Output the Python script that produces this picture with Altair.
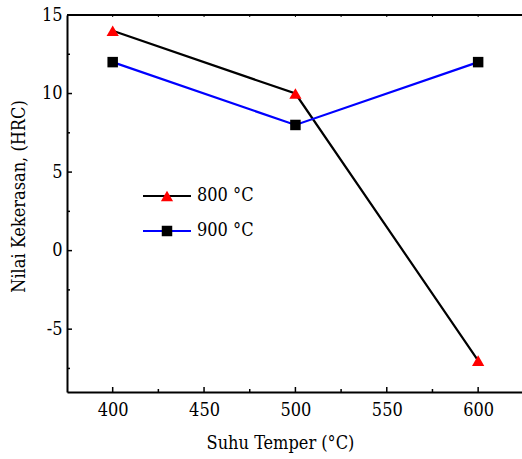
import altair as alt
import pandas as pd

# Data
temps = [400, 500, 600]
hrc_800 = [14, 10, -7]
hrc_900 = [12, 8, 12]
series_names = ["800 °C", "900 °C"]

x_major = [400, 450, 500, 550, 600]
x_minor = [425, 475, 525, 575]
x_top = [400, 425, 450, 475, 500, 525, 550, 575, 600]
y_major = [-5, 0, 5, 10]
y_minor = [-7.5, -2.5, 2.5, 7.5, 12.5]

FONT = "DejaVu Serif Condensed, Liberation Serif, serif"
W, H = 455, 377

df = pd.DataFrame({
    "temp": temps * 2,
    "hrc": hrc_800 + hrc_900,
    "series": [series_names[0]] * 3 + [series_names[1]] * 3,
})

xs = alt.Scale(domain=[375, 624], nice=False, zero=False)
ys = alt.Scale(domain=[-9, 15], nice=False, zero=False)

x_axis = alt.Axis(values=x_major, title="Suhu Temper (°C)", ticks=False,
                  labelFont=FONT, labelFontSize=18, labelColor="black", labelPadding=9,
                  titleFont=FONT, titleFontSize=18, titleFontWeight="normal", titleColor="black",
                  titlePadding=15, titleX=213, titleAlign="center",
                  domainColor="black", domainWidth=2, grid=False)
y_axis = alt.Axis(values=[-5, 0, 5, 10, 15], title="Nilai Kekerasan, (HRC)", ticks=False,
                  labelExpr="'' + datum.value",
                  labelFont=FONT, labelFontSize=18, labelColor="black", labelPadding=5,
                  titleFont=FONT, titleFontSize=18, titleFontWeight="normal", titleColor="black",
                  titlePadding=13, titleY=181, titleAlign="center",
                  domainColor="black", domainWidth=2, grid=False)

color_line = alt.Color("series:N", scale=alt.Scale(domain=series_names, range=["black", "#0000FF"]), legend=None)

base = alt.Chart(df)

lines = base.mark_line(strokeWidth=2.2).encode(
    x=alt.X("temp:Q", scale=xs, axis=x_axis),
    y=alt.Y("hrc:Q", scale=ys, axis=y_axis),
    color=color_line,
    order=alt.Order("temp:Q"),
)

pts = base.mark_point(filled=True, opacity=1).encode(
    x=alt.X("temp:Q", scale=xs),
    y=alt.Y("hrc:Q", scale=ys),
    fill=alt.Fill("series:N", scale=alt.Scale(domain=series_names, range=["#FF0000", "black"]), legend=None),
    shape=alt.Shape("series:N", scale=alt.Scale(domain=series_names, range=["triangle-up", "square"]), legend=None),
    size=alt.Size("series:N", scale=alt.Scale(domain=series_names, range=[150, 110]), legend=None),
)

# Inward ticks
ytm = alt.Chart(pd.DataFrame({"v": y_major})).mark_rule(color="black", strokeWidth=1.5).encode(
    y=alt.Y("v:Q", scale=ys), x=alt.value(0), x2=alt.value(5))
ytn = alt.Chart(pd.DataFrame({"v": y_minor})).mark_rule(color="black", strokeWidth=1.5).encode(
    y=alt.Y("v:Q", scale=ys), x=alt.value(0), x2=alt.value(3))
xtm = alt.Chart(pd.DataFrame({"v": x_major})).mark_rule(color="black", strokeWidth=1.5).encode(
    x=alt.X("v:Q", scale=xs), y=alt.value(H), y2=alt.value(H - 5))
xtn = alt.Chart(pd.DataFrame({"v": x_minor})).mark_rule(color="black", strokeWidth=1.5).encode(
    x=alt.X("v:Q", scale=xs), y=alt.value(H), y2=alt.value(H - 3))
xtt = alt.Chart(pd.DataFrame({"v": x_top})).mark_rule(color="black", strokeWidth=1).encode(
    x=alt.X("v:Q", scale=xs), y=alt.value(0), y2=alt.value(2))
top_border = alt.Chart(pd.DataFrame({"a": [0]})).mark_rule(color="black", strokeWidth=2).encode(
    x=alt.value(0), x2=alt.value(W + 5), y=alt.value(0))

# Legend
leg_rows = []
leg_colors_line = ["black", "#0000FF"]
leg_colors_pt = ["#FF0000", "black"]
leg_shapes = ["triangle-up", "square"]
leg_sizes = [150, 110]
leg_y = [181, 216]
for i in range(2):
    d = pd.DataFrame({"label": [series_names[i]]})
    c = alt.Chart(d)
    leg_rows.append(c.mark_rule(color=leg_colors_line[i], strokeWidth=2.2).encode(
        x=alt.value(76), x2=alt.value(124), y=alt.value(leg_y[i])))
    leg_rows.append(c.mark_point(filled=True, opacity=1, color=leg_colors_pt[i], shape=leg_shapes[i],
                                 size=leg_sizes[i]).encode(x=alt.value(100), y=alt.value(leg_y[i])))
    leg_rows.append(c.mark_text(align="left", baseline="middle", font=FONT, fontSize=18, color="black").encode(
        x=alt.value(130), y=alt.value(leg_y[i]), text="label:N"))

chart = alt.layer(
    lines, pts, ytm, ytn, xtm, xtn, xtt, top_border, *leg_rows
).resolve_scale(color="independent").properties(
    width=W, height=H,
    autosize=alt.AutoSizeParams(type="none"),
    padding={"left": 67, "top": 15, "right": 0, "bottom": 67},
).configure_view(stroke=None).configure(background="white")

chart.save("out.html", embed_options={"renderer": "svg", "actions": False})
